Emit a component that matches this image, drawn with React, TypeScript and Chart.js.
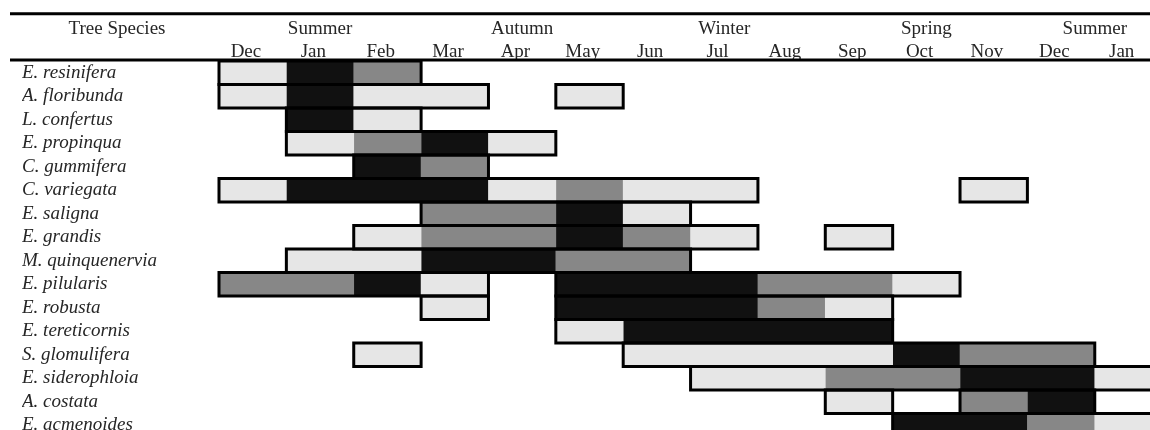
import React, { useEffect, useRef } from 'react';
import { Chart, registerables } from 'chart.js';

Chart.register(...registerables);

// ---- data ----
const species = [
  'E. resinifera',
  'A. floribunda',
  'L. confertus',
  'E. propinqua',
  'C. gummifera',
  'C. variegata',
  'E. saligna',
  'E. grandis',
  'M. quinquenervia',
  'E. pilularis',
  'E. robusta',
  'E. tereticornis',
  'S. glomulifera',
  'E. siderophloia',
  'A. costata',
  'E. acmenoides',
];

const months = ['Dec', 'Jan', 'Feb', 'Mar', 'Apr', 'May', 'Jun', 'Jul', 'Aug', 'Sep', 'Oct', 'Nov', 'Dec', 'Jan'];
const seasons = ['Summer', 'Autumn', 'Winter', 'Spring', 'Summer'];
const seasonMonthPos = [1.5, 4.5, 7.5, 10.5, 13];
const headerTitle = 'Tree Species';

// [species index, start month index, end month index]
const lightSpans: number[][] = [
  [0, 0, 1],
  [1, 0, 1], [1, 2, 4], [1, 5, 6],
  [2, 2, 3],
  [3, 1, 2], [3, 4, 5],
  [5, 0, 1], [5, 4, 5], [5, 6, 8], [5, 11, 12],
  [6, 6, 7],
  [7, 2, 3], [7, 7, 8], [7, 9, 10],
  [8, 1, 3],
  [9, 3, 4], [9, 10, 11],
  [10, 3, 4], [10, 9, 10],
  [11, 5, 6],
  [12, 2, 3], [12, 6, 10],
  [13, 7, 9], [13, 13, 14],
  [14, 9, 10],
  [15, 13, 14],
];

const midSpans: number[][] = [
  [0, 2, 3],
  [3, 2, 3],
  [4, 3, 4],
  [5, 5, 6],
  [6, 3, 5],
  [7, 3, 5], [7, 6, 7],
  [8, 5, 7],
  [9, 0, 2], [9, 8, 10],
  [10, 8, 9],
  [12, 11, 13],
  [13, 9, 11],
  [14, 11, 12],
  [15, 12, 13],
];

const darkSpans: number[][] = [
  [0, 1, 2],
  [1, 1, 2],
  [2, 1, 2],
  [3, 3, 4],
  [4, 2, 3],
  [5, 1, 4],
  [6, 5, 6],
  [7, 5, 6],
  [8, 3, 5],
  [9, 2, 3], [9, 5, 8],
  [10, 5, 8],
  [11, 6, 10],
  [12, 10, 11],
  [13, 11, 13],
  [14, 12, 13],
  [15, 10, 12],
];

// merge contiguous spans of each species into outlined groups
function buildGroups(): number[][] {
  const all = [...lightSpans, ...midSpans, ...darkSpans];
  const out: number[][] = [];
  species.forEach((_, r) => {
    const rows = all.filter((s) => s[0] === r).sort((a, b) => a[1] - b[1]);
    let cur: number[] | null = null;
    rows.forEach((s) => {
      if (cur && s[1] <= cur[2]) {
        cur[2] = Math.max(cur[2], s[2]);
      } else {
        if (cur) out.push(cur);
        cur = [r, s[1], s[2]];
      }
    });
    if (cur) out.push(cur);
  });
  return out;
}

const toData = (spans: number[][]) => spans.map(([r, s, e]) => ({ y: species[r], x: [s, e] }));

const FONT = "'Liberation Serif', 'Times New Roman', serif";
const TEXT = '#262626';
const FS = 19;

const headerPlugin = {
  id: 'header',
  afterDraw(chart: any) {
    const ctx = chart.ctx;
    const xs = chart.scales.x;
    ctx.save();
    ctx.strokeStyle = '#000';
    ctx.lineWidth = 3;
    ctx.beginPath();
    ctx.moveTo(10, 13.8);
    ctx.lineTo(chart.width, 13.8);
    ctx.moveTo(10, 60);
    ctx.lineTo(chart.width, 60);
    ctx.stroke();
    ctx.fillStyle = TEXT;
    ctx.font = `${FS}px ${FONT}`;
    ctx.textBaseline = 'alphabetic';
    ctx.textAlign = 'center';
    ctx.fillText(headerTitle, 117, 33.5);
    seasons.forEach((s, i) => {
      ctx.fillText(s, xs.getPixelForValue(seasonMonthPos[i]), 33.5);
    });
    ctx.restore();
  },
};

const outlinePlugin = {
  id: 'groupOutline',
  afterDatasetsDraw(chart: any) {
    const ctx = chart.ctx;
    const meta = chart.getDatasetMeta(3);
    ctx.save();
    ctx.strokeStyle = '#000';
    ctx.lineWidth = 3;
    meta.data.forEach((el: any) => {
      const { x, base, y, height } = el.getProps(['x', 'base', 'y', 'height'], true);
      const left = Math.min(x, base);
      ctx.strokeRect(left, y - height / 2, Math.abs(x - base), height);
    });
    ctx.restore();
  },
};

export default function App() {
  const ref = useRef<HTMLCanvasElement>(null);

  useEffect(() => {
    if (!ref.current) return;
    const groups = buildGroups();
    const chart = new Chart(ref.current, {
      type: 'bar',
      data: {
        labels: species,
        datasets: [
          { label: 'light', data: toData(lightSpans) as any, backgroundColor: '#e6e6e6', borderWidth: 0 },
          { label: 'mid', data: toData(midSpans) as any, backgroundColor: '#878787', borderWidth: 0 },
          { label: 'dark', data: toData(darkSpans) as any, backgroundColor: '#111111', borderWidth: 0 },
          { label: 'group', data: toData(groups) as any, backgroundColor: 'rgba(0,0,0,0)', borderWidth: 0 },
        ],
      },
      options: {
        indexAxis: 'y',
        animation: false,
        responsive: false,
        maintainAspectRatio: false,
        devicePixelRatio: 1,
        layout: { padding: { left: 22, right: 0, top: 0, bottom: 0 } },
        datasets: {
          bar: { grouped: false, barPercentage: 1, categoryPercentage: 1 },
        } as any,
        plugins: {
          legend: { display: false },
          tooltip: { enabled: false },
        },
        scales: {
          x: {
            type: 'linear',
            position: 'top',
            min: 0,
            max: 13.82,
            grid: { display: false, drawTicks: false },
            border: { display: false },
            afterBuildTicks: (scale: any) => {
              scale.ticks = months.map((_, i) => ({ value: i + 0.4 }));
            },
            afterFit: (scale: any) => {
              scale.height = 61;
              scale.paddingLeft = 0;
              scale.paddingRight = 0;
            },
            ticks: {
              autoSkip: false,
              maxRotation: 0,
              padding: -2,
              color: TEXT,
              font: { family: FONT, size: FS },
              callback: (_v: any, i: number) => months[i],
            },
          },
          y: {
            type: 'category',
            grid: { display: false, drawTicks: false },
            border: { display: false },
            afterFit: (scale: any) => {
              scale.width = 197;
              scale.paddingTop = 0;
              scale.paddingBottom = 0;
            },
            ticks: {
              autoSkip: false,
              crossAlign: 'far',
              padding: 0,
              color: TEXT,
              font: { family: FONT, size: FS, style: 'italic' },
            },
          },
        },
      },
      plugins: [outlinePlugin, headerPlugin],
    });
    return () => chart.destroy();
  }, []);

  return (
    <div
      style={{
        position: 'absolute',
        left: 0,
        top: 0,
        width: 1150,
        height: 430,
        overflow: 'hidden',
        background: '#fff',
      }}
    >
      <canvas ref={ref} width={1150} height={437} style={{ display: 'block' }} />
    </div>
  );
}
